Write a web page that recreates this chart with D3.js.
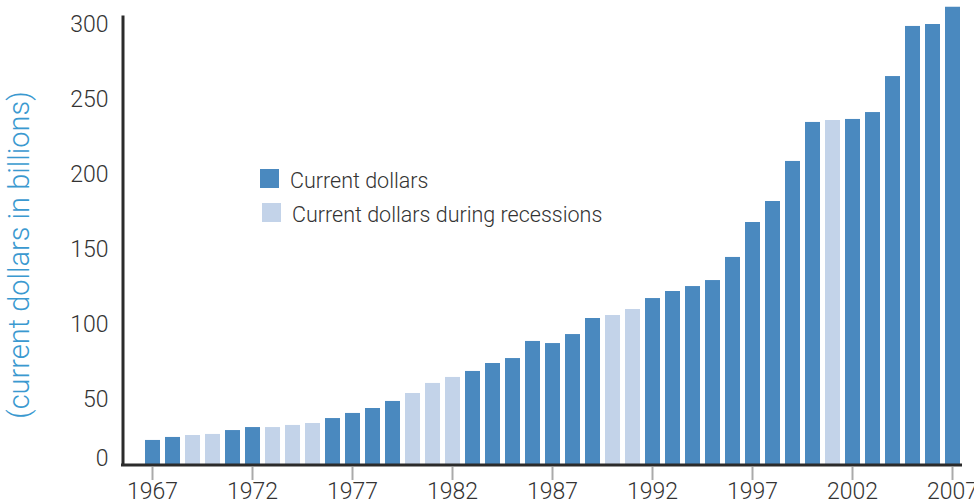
<!DOCTYPE html>
<html>
<head>
<meta charset="utf-8">
<script src="https://cdn.jsdelivr.net/npm/d3@7"></script>
<style>
  body { margin: 0; background: #fff; }
  text { font-family: Roboto, "Liberation Sans", sans-serif; font-weight: 300; }
</style>
</head>
<body>
<div id="chart"></div>
<script>
// Years shown, bar values (billions of current dollars) and recession years
var years = d3.range(1967, 2008);
var values = [16.7, 18.7, 20, 20.7, 23.3, 25.3, 25.3, 26.7, 28, 31.3,
              34.7, 38, 42.7, 48, 54.7, 58.7, 62.7, 68, 71.3, 82.7,
              81.3, 87.3, 98, 100, 104, 111.3, 116, 119.3, 123.3, 138.7,
              162, 176, 202.7, 228.7, 230, 230.7, 235.3, 259.3, 292.7, 294,
              305.5];
var recessionYears = [1969, 1970, 1973, 1974, 1975, 1980, 1981, 1982, 1990, 1991, 2001];
var yTicks = [0, 50, 100, 150, 200, 250, 300];
var xTicks = [1967, 1972, 1977, 1982, 1987, 1992, 1997, 2002, 2007];
var legendLabels = ['Current dollars', 'Current dollars during recessions'];

var data = years.map(function(yr, i) {
  return {year: yr, value: values[i], recession: recessionYears.indexOf(yr) >= 0};
});

var width = 974, height = 504;
var dark = '#4a89bf', light = '#c3d3e9';

var svg = d3.select('#chart')
            .append('svg')
            .attr('width', width)
            .attr('height', height);

var x = d3.scaleBand()
          .domain(years)
          .range([142.5, 962.5])
          .paddingInner(0.25)
          .paddingOuter(0.125);

var y = d3.scaleLinear()
          .domain([0, 300])
          .range([465, 15]);

// Bars
svg.append('g')
   .selectAll('rect')
   .data(data)
   .enter().append('rect')
   .attr('x', function(d) { return x(d.year); })
   .attr('width', x.bandwidth())
   .attr('y', function(d) { return y(d.value); })
   .attr('height', function(d) { return y(0) - y(d.value); })
   .attr('fill', function(d) { return d.recession ? light : dark; });

// y-axis
var y_axis = d3.axisLeft(y)
               .tickValues(yTicks)
               .tickSize(0)
               .tickPadding(14);

var gy = svg.append('g')
            .attr('transform', 'translate(122.5,0)')
            .call(y_axis);

gy.select('.domain')
  .attr('stroke', '#2b2b2b')
  .attr('stroke-width', 3);

gy.selectAll('text')
  .attr('font-size', 23)
  .attr('fill', '#333')
  .attr('dy', function(d) { return d === 0 ? '0.0em' : '0.72em'; });

// x-axis
var x_axis = d3.axisBottom(x)
               .tickValues(xTicks)
               .tickSizeOuter(0)
               .tickSizeInner(15)
               .tickPadding(3);

var gx = svg.append('g')
            .attr('transform', 'translate(0,465)')
            .call(x_axis);

gx.select('.domain').remove();
gx.append('line')
  .attr('x1', 121)
  .attr('x2', 962)
  .attr('stroke', '#2b2b2b')
  .attr('stroke-width', 3);

gx.selectAll('.tick line')
  .attr('stroke', '#aaa')
  .attr('stroke-width', 2)
  .attr('y1', 2);

gx.selectAll('text')
  .attr('font-size', 23)
  .attr('fill', '#333');

// y-axis title
svg.append('text')
   .attr('transform', 'translate(29,255) rotate(-90)')
   .attr('text-anchor', 'middle')
   .attr('font-size', 29)
   .attr('fill', '#3a99d0')
   .text('(current dollars in billions)');

// Legend
var legend = svg.append('g')
                .selectAll('g')
                .data(legendLabels)
                .enter().append('g')
                .attr('transform', function(d, i) { return 'translate(' + (260 + i * 2) + ',' + (169 + i * 34) + ')'; });

legend.append('rect')
      .attr('width', 19)
      .attr('height', 19)
      .attr('fill', function(d, i) { return i === 0 ? dark : light; });

legend.append('text')
      .attr('x', 30)
      .attr('y', 11)
      .attr('dy', '0.35em')
      .attr('font-size', 21.5)
      .attr('fill', '#333')
      .text(function(d) { return d; });
</script>
</body>
</html>
